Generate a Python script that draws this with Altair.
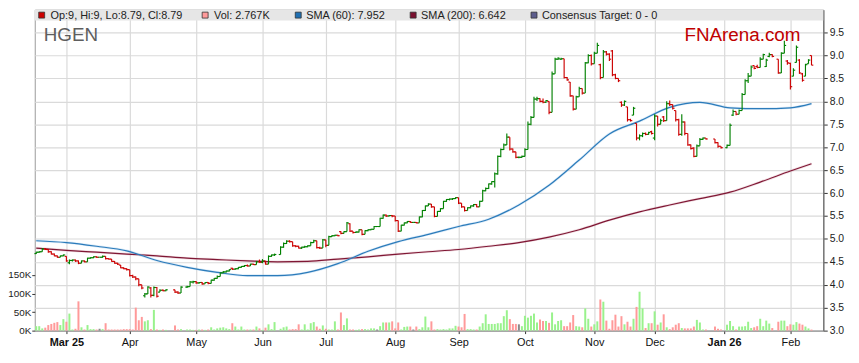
import altair as alt
import pandas as pd
import numpy as np

FONT = "Liberation Sans, Arial, sans-serif"

START, END = "2025-02-17", "2026-02-11"
HOLIDAYS = ["2025-04-18", "2025-04-21", "2025-04-25", "2025-06-09",
            "2025-12-25", "2025-12-26", "2026-01-01", "2026-01-26"]

OPEN = [
    4.68,4.71,4.72,4.78,4.77,4.72,4.67,4.63,4.60,4.63,
    4.62,4.48,4.53,4.54,4.52,4.47,4.52,4.50,4.58,4.59,4.61,4.60,4.60,4.62,4.57,4.56,4.51,4.47,4.43,4.37,4.35,
    4.33,4.20,4.17,4.13,4.00,3.76,3.80,3.93,3.77,3.94,3.84,3.88,3.87,3.89,3.84,3.82,3.95,3.96,4.06,
    4.07,4.04,4.05,4.02,4.05,4.03,4.10,4.14,4.18,4.26,4.28,4.30,4.36,4.34,4.35,4.38,4.40,4.42,4.41,4.45,4.44,4.50,
    4.49,4.52,4.45,4.62,4.65,4.66,4.82,4.90,4.95,4.94,4.85,4.84,4.80,4.82,4.83,4.85,4.92,4.96,4.81,4.80,
    4.98,4.86,5.05,5.07,5.08,5.16,5.12,5.16,5.33,5.17,5.14,5.15,5.20,5.10,5.18,5.20,5.21,5.27,5.27,5.45,5.52,5.50,5.51,
    5.50,5.40,5.17,5.30,5.35,5.38,5.36,5.36,5.35,5.48,5.62,5.72,5.76,5.70,5.49,5.60,5.66,5.82,5.86,5.87,5.88,
    5.90,5.78,5.70,5.62,5.68,5.72,5.75,5.70,5.82,6.05,6.10,6.20,6.25,6.42,6.80,6.95,7.05,7.22,6.96,6.90,6.78,6.78,
    6.80,6.95,7.50,7.65,8.05,8.06,8.00,7.98,8.00,7.76,8.60,8.92,8.92,8.93,8.52,8.42,8.12,7.83,8.10,8.28,8.18,8.84,9.00,
    8.82,9.05,8.80,8.52,9.08,9.03,9.10,8.58,8.50,7.98,7.92,7.88,7.60,7.70,7.52,7.20,7.25,7.30,7.28,7.34,
    7.20,7.68,7.50,7.66,7.58,7.95,7.93,7.80,7.60,7.28,7.55,7.30,7.05,6.98,6.80,7.03,7.17,7.20,7.18,7.10,7.02,
    6.99,7.04,7.70,7.78,7.72,7.80,8.15,8.45,8.55,8.78,8.76,8.74,8.92,8.76,8.98,9.02,8.92,8.62,9.05,8.88,
    8.83,8.55,8.85,8.90,8.60,8.55,8.82,9.00,
]
HIGH = [
    4.72,4.73,4.80,4.80,4.78,4.73,4.68,4.64,4.64,4.66,
    4.62,4.55,4.55,4.55,4.53,4.53,4.53,4.59,4.60,4.62,4.62,4.60,4.64,4.62,4.58,4.56,4.52,4.48,4.43,4.38,4.36,
    4.33,4.22,4.18,4.13,4.00,3.82,3.97,3.95,3.96,3.95,3.90,3.90,3.90,3.89,3.86,3.97,3.98,4.08,4.09,
    4.08,4.06,4.06,4.06,4.06,4.11,4.15,4.20,4.27,4.30,4.31,4.34,4.37,4.36,4.39,4.41,4.43,4.44,4.46,4.46,4.52,4.55,
    4.56,4.52,4.64,4.66,4.68,4.84,4.92,4.97,4.97,4.94,4.86,4.85,4.83,4.85,4.86,4.94,4.98,4.96,4.83,5.00,
    4.98,5.07,5.08,5.09,5.09,5.17,5.17,5.37,5.34,5.17,5.17,5.21,5.20,5.19,5.21,5.22,5.28,5.28,5.46,5.53,5.53,5.52,5.52,
    5.50,5.40,5.31,5.36,5.39,5.39,5.37,5.37,5.49,5.63,5.73,5.78,5.76,5.70,5.61,5.67,5.83,5.87,5.88,5.89,5.91,
    5.90,5.78,5.70,5.69,5.73,5.76,5.76,5.83,6.07,6.12,6.21,6.26,6.45,6.82,6.97,7.08,7.30,7.22,6.97,6.90,6.80,6.82,
    6.98,7.56,7.68,8.10,8.10,8.07,8.06,8.03,8.00,8.65,8.95,8.96,8.95,8.93,8.53,8.42,8.12,8.12,8.32,8.28,8.86,9.03,9.02,
    9.08,9.28,8.82,9.12,9.10,9.05,9.12,8.60,8.50,8.00,8.02,7.88,7.62,7.88,7.52,7.28,7.32,7.32,7.34,7.36,
    7.72,7.68,7.62,7.68,8.00,8.02,7.93,7.80,7.62,7.72,7.56,7.30,7.06,7.00,7.06,7.20,7.21,7.20,7.18,7.11,7.02,
    7.06,7.52,7.82,7.78,7.82,8.18,8.48,8.62,8.78,8.78,8.80,8.96,9.04,8.93,9.06,9.03,8.92,9.07,9.32,8.90,
    8.84,8.72,9.22,8.92,8.62,8.82,8.92,9.00,
]
LOW = [
    4.67,4.70,4.72,4.76,4.70,4.66,4.62,4.59,4.60,4.62,
    4.50,4.45,4.51,4.50,4.45,4.47,4.49,4.50,4.57,4.58,4.59,4.60,4.59,4.55,4.55,4.50,4.46,4.43,4.36,4.34,4.31,
    4.18,4.15,4.10,3.97,3.90,3.72,3.80,3.72,3.75,3.72,3.84,3.86,3.86,3.82,3.80,3.82,3.93,3.96,4.03,
    4.02,4.02,4.00,4.02,4.01,4.03,4.09,4.13,4.18,4.25,4.27,4.29,4.32,4.33,4.34,4.37,4.39,4.40,4.41,4.43,4.44,4.48,
    4.47,4.44,4.45,4.61,4.63,4.66,4.81,4.89,4.92,4.83,4.82,4.79,4.78,4.81,4.82,4.85,4.91,4.79,4.78,4.80,
    4.82,4.86,5.04,5.06,5.06,5.10,5.12,5.16,5.15,5.12,5.13,5.14,5.08,5.10,5.17,5.19,5.21,5.26,5.27,5.44,5.48,5.49,5.47,
    5.38,5.15,5.17,5.29,5.34,5.35,5.36,5.34,5.35,5.47,5.61,5.72,5.68,5.47,5.49,5.59,5.66,5.81,5.84,5.85,5.87,
    5.76,5.68,5.60,5.62,5.67,5.70,5.69,5.70,5.82,6.04,6.09,6.18,6.12,6.40,6.78,6.94,7.05,6.93,6.88,6.76,6.76,6.77,
    6.80,6.95,7.48,7.65,8.01,7.98,7.96,7.97,7.72,7.76,8.60,8.90,8.90,8.50,8.45,8.10,7.80,7.83,8.10,8.15,8.18,8.83,8.78,
    8.82,9.05,8.48,8.52,9.00,8.88,8.55,8.48,8.42,7.88,7.90,7.56,7.56,7.70,7.15,7.15,7.22,7.26,7.27,7.28,
    7.15,7.45,7.50,7.55,7.58,7.90,7.82,7.56,7.25,7.25,7.26,7.03,6.95,6.78,6.80,7.03,7.16,7.17,7.08,6.99,6.97,
    6.98,7.04,7.68,7.70,7.72,7.80,8.15,8.40,8.55,8.70,8.72,8.74,8.92,8.75,8.96,8.96,8.60,8.62,9.05,8.80,
    8.26,8.55,8.85,8.60,8.43,8.55,8.82,8.79,
]
CLOSE = [
    4.71,4.72,4.78,4.77,4.72,4.67,4.63,4.60,4.63,4.65,
    4.52,4.53,4.54,4.52,4.47,4.52,4.50,4.58,4.59,4.61,4.60,4.60,4.62,4.57,4.56,4.51,4.47,4.45,4.37,4.35,4.33,
    4.20,4.17,4.13,4.00,3.93,3.80,3.95,3.77,3.94,3.75,3.88,3.87,3.89,3.84,3.82,3.95,3.96,4.06,4.07,
    4.04,4.05,4.02,4.05,4.03,4.10,4.14,4.18,4.26,4.28,4.30,4.33,4.34,4.35,4.38,4.40,4.42,4.41,4.45,4.44,4.50,4.49,
    4.52,4.45,4.62,4.65,4.66,4.82,4.90,4.95,4.94,4.85,4.84,4.80,4.82,4.83,4.85,4.92,4.96,4.81,4.80,4.98,
    4.86,5.05,5.07,5.08,5.07,5.12,5.16,5.35,5.17,5.14,5.15,5.20,5.10,5.18,5.20,5.21,5.27,5.27,5.45,5.52,5.50,5.51,5.50,
    5.40,5.17,5.30,5.35,5.38,5.36,5.36,5.35,5.48,5.62,5.72,5.76,5.70,5.49,5.60,5.66,5.82,5.86,5.87,5.88,5.90,
    5.78,5.70,5.62,5.68,5.72,5.75,5.70,5.82,6.05,6.10,6.20,6.25,6.42,6.80,6.95,7.05,7.22,6.96,6.90,6.78,6.78,6.80,
    6.95,7.50,7.65,8.05,8.06,8.00,7.98,8.02,7.76,8.60,8.92,8.94,8.93,8.52,8.47,8.12,7.83,8.10,8.28,8.18,8.84,9.00,8.82,
    9.05,9.22,8.52,9.08,9.03,8.92,8.58,8.50,8.45,7.92,8.00,7.60,7.58,7.85,7.20,7.25,7.30,7.28,7.32,7.30,
    7.68,7.50,7.58,7.58,7.95,7.93,7.85,7.60,7.28,7.55,7.30,7.05,6.97,6.80,7.03,7.17,7.20,7.18,7.10,7.02,6.99,
    7.04,7.48,7.78,7.72,7.80,8.15,8.45,8.55,8.75,8.72,8.74,8.92,9.02,8.90,9.02,8.98,8.62,9.05,9.22,8.84,
    8.32,8.68,9.18,8.62,8.46,8.80,8.90,8.79,
]
VOLUME_K = [
    12,12,6,8,15,18,21,23,15,31,
    24,46,3,5,79,9,3,15,4,4,3,5,4,20,3,3,3,3,3,4,4,
    4,3,62,28,37,25,28,4,56,3,2,3,2,14,3,4,3,3,2,
    2,3,3,2,3,9,3,6,8,9,6,4,20,11,3,11,3,3,3,3,11,6,
    2,8,17,4,23,5,9,11,3,4,4,17,3,17,3,20,23,11,5,14,
    5,3,3,25,3,49,15,33,3,3,2,3,4,4,3,6,6,3,12,22,22,22,25,
    6,22,3,10,11,11,3,11,4,9,38,9,25,3,4,3,4,3,6,6,13,
    11,9,45,4,4,3,3,11,20,44,18,18,18,20,20,39,55,31,18,18,17,12,
    40,35,40,46,22,30,26,26,21,49,17,26,28,12,12,22,42,12,11,9,60,32,11,
    17,25,84,78,27,5,28,43,11,39,17,24,11,32,64,105,60,7,20,20,
    52,16,22,44,9,4,9,16,20,7,6,6,6,11,29,22,3,3,11,5,3,
    16,26,12,3,11,11,12,24,7,9,12,32,12,27,19,7,24,27,27,12,
    17,16,23,19,16,11,6,2.767,
]
SMA60 = [4.96, 4.92, 4.84, 4.74, 4.53, 4.38, 4.27, 4.20, 4.20, 4.27, 4.46, 4.73, 4.94,
         5.10, 5.27, 5.43, 5.74, 6.17, 6.72, 7.29, 7.57, 7.87, 7.98, 7.86, 7.84, 7.86, 7.95]
SMA200 = [4.80, 4.75, 4.71, 4.67, 4.63, 4.58, 4.55, 4.52, 4.50, 4.51, 4.56, 4.61, 4.67,
          4.72, 4.77, 4.84, 4.92, 5.04, 5.20, 5.41, 5.59, 5.74, 5.88, 6.02, 6.24, 6.48, 6.64]
PRICE_TICKS = [3.0, 3.5, 4.0, 4.5, 5.0, 5.5, 6.0, 6.5, 7.0, 7.5, 8.0, 8.5, 9.0, 9.5]
VOL_TICKS = [0, 50, 100, 150]
LEGEND_TEXTS = ["Op:9, Hi:9, Lo:8.79, Cl:8.79", "Vol: 2.767K", "SMA (60): 7.952",
                "SMA (200): 6.642", "Consensus Target: 0 - 0"]
LEGEND_COLORS = ["#cc0000", "#ff9a9a", "#1f6fb2", "#7a1030", "#5c5c8c"]

# ---- layout ----
W, H = 796, 324
GREEN, RED = "#008000", "#cc0000"
VGREEN, VRED, VGRAY = "#99f28c", "#ff9a9a", "#8a8a8a"
BLUE, MAROON = "#2b7bba", "#7f1734"

weekdays = pd.bdate_range(START, END)
kpos = {d: i for i, d in enumerate(weekdays)}
trade_days = [d for d in weekdays if d.strftime("%Y-%m-%d") not in HOLIDAYS]
n = min(len(trade_days), len(OPEN), len(HIGH), len(LOW), len(CLOSE), len(VOLUME_K))

df = pd.DataFrame({
    "k": [kpos[d] for d in trade_days[:n]],
    "open": OPEN[:n], "high": HIGH[:n], "low": LOW[:n], "close": CLOSE[:n],
    "vol": VOLUME_K[:n],
})
df["pcol"] = np.where(df["close"] >= df["open"], GREEN, RED)
df["vcol"] = np.where(df["close"] > df["open"], VGREEN,
                      np.where(df["close"] < df["open"], VRED, VGRAY))
df["k0"] = df["k"] - 0.6
df["k1"] = df["k"] + 0.6
df["v0"] = df["k"] - 0.33
df["v1"] = df["k"] + 0.33
df["zero"] = 0

sma_k = list(range(0, 251, 10)) + [257]
sma_df = pd.DataFrame({"k": sma_k[:len(SMA60)], "s60": SMA60, "s200": SMA200})

# month ticks
ticks, labs, bold_ticks = [], [], []
seen = set()
for d in weekdays:
    key = (d.year, d.month)
    if key in seen:
        continue
    seen.add(key)
    if d.day > 7:
        continue
    k = kpos[d]
    if not ticks or d.month == 1:
        labs.append(d.strftime("%b %y"))
        bold_ticks.append(k)
    else:
        labs.append(d.strftime("%b"))
    ticks.append(k)
label_expr = " : ".join(f"datum.value == {k} ? '{l}'" for k, l in zip(ticks, labs)) + " : ''"
bold_test = " || ".join(f"datum.value == {k}" for k in bold_ticks)

xscale = alt.Scale(domain=[-0.49, 260.9], nice=False, zero=False)
xaxis = alt.Axis(values=ticks, labelExpr=label_expr, grid=True, gridColor="#dadada",
                 gridWidth=1.2, tickSize=3, tickColor="#333", labelFontSize=11,
                 labelColor="#111", labelPadding=3, domain=True, domainColor="#8a8a8a",
                 labelFont=FONT,
                 labelFontWeight={"condition": {"test": bold_test, "value": "bold"},
                                  "value": "normal"},
                 title=None)

pscale = alt.Scale(domain=[3, 10], nice=False, zero=False)
paxis = alt.Axis(orient="right", values=PRICE_TICKS, format=".1f", grid=True,
                 gridColor="#dadada", gridWidth=1.2, tickSize=4, tickColor="#333",
                 labelFontSize=10.5, labelColor="#222", labelPadding=2, domain=True,
                 domainColor="#7a7a7a", domainWidth=1.5, labelFont=FONT, title=None)
vscale = alt.Scale(domain=[0, 866], nice=False, zero=True)
vaxis = alt.Axis(orient="left", values=VOL_TICKS, labelExpr="datum.value + 'K'", grid=False,
                 tickSize=3, tickColor="#333", labelFontSize=10, labelColor="#222",
                 labelPadding=1, domain=False, labelFont=FONT, title=None)

base = alt.Chart(df)

vol = base.mark_rect().encode(
    x=alt.X("v0:Q", scale=xscale, axis=xaxis),
    x2="v1:Q",
    y=alt.Y("vol:Q", scale=vscale, axis=vaxis),
    y2="zero:Q",
    color=alt.Color("vcol:N", scale=None),
)

def pY(field):
    return alt.Y(field, scale=pscale, axis=paxis)

def pX(field):
    return alt.X(field, scale=xscale, axis=xaxis)

sma_base = alt.Chart(sma_df)
s200_halo = sma_base.mark_line(color="#d6a3b1", strokeWidth=2.6, opacity=0.35,
                               interpolate="monotone").encode(x=pX("k:Q"), y=pY("s200:Q"))
s200 = sma_base.mark_line(color=MAROON, strokeWidth=1.2,
                          interpolate="monotone").encode(x=pX("k:Q"), y=pY("s200:Q"))
s60_halo = sma_base.mark_line(color="#9cc7ea", strokeWidth=2.6, opacity=0.35,
                              interpolate="monotone").encode(x=pX("k:Q"), y=pY("s60:Q"))
s60 = sma_base.mark_line(color=BLUE, strokeWidth=1.2,
                         interpolate="monotone").encode(x=pX("k:Q"), y=pY("s60:Q"))

hl = base.mark_rule(strokeWidth=1.15).encode(
    x=pX("k:Q"), y=pY("low:Q"), y2="high:Q", color=alt.Color("pcol:N", scale=None))
op = base.mark_rule(strokeWidth=1.15).encode(
    x=pX("k0:Q"), x2="k:Q", y=pY("open:Q"), color=alt.Color("pcol:N", scale=None))
cl = base.mark_rule(strokeWidth=1.15).encode(
    x=pX("k:Q"), x2="k1:Q", y=pY("close:Q"), color=alt.Color("pcol:N", scale=None))

price = alt.layer(s200_halo, s200, s60_halo, s60, hl, op, cl)

dummy = alt.Chart(pd.DataFrame({"d": [0]}))
band = dummy.mark_rect(color="#e6e6e6").encode(
    x=alt.value(0), x2=alt.value(W), y=alt.value(0), y2=alt.value(11))

sq_x = [4, 169, 263, 379, 501]
tx_x = [16, 181, 274, 390, 512]
legend_layers = []
for sx, tx, col, txt in zip(sq_x, tx_x, LEGEND_COLORS, LEGEND_TEXTS):
    legend_layers.append(dummy.mark_rect(color=col, stroke="#333", strokeWidth=0.8).encode(
        x=alt.value(sx), x2=alt.value(sx + 6), y=alt.value(2.5), y2=alt.value(8.5)))
    legend_layers.append(dummy.mark_text(align="left", baseline="alphabetic", fontSize=11,
                                         font=FONT, color="#222").encode(
        x=alt.value(tx), y=alt.value(9.5), text=alt.value(txt)))

hgen = dummy.mark_text(align="left", baseline="alphabetic", fontSize=19, font=FONT,
                       color="#5e5e5e").encode(x=alt.value(9), y=alt.value(32),
                                               text=alt.value("HGEN"))
fna = dummy.mark_text(align="right", baseline="alphabetic", fontSize=19, font=FONT,
                      color="#c00000").encode(x=alt.value(773), y=alt.value(32),
                                              text=alt.value("FNArena.com"))

data_layer = alt.layer(vol, price).resolve_scale(y="independent")

chart = alt.layer(data_layer, band, *legend_layers, hgen, fna).properties(
    width=W, height=H,
    autosize=alt.AutoSizeParams(type="none"),
    padding={"left": 27, "top": 0, "right": 28, "bottom": 31},
    background="white",
).configure_view(stroke="#9a9a9a", strokeWidth=1)

chart.save("out.html", embed_options={"renderer": "svg", "actions": False})
